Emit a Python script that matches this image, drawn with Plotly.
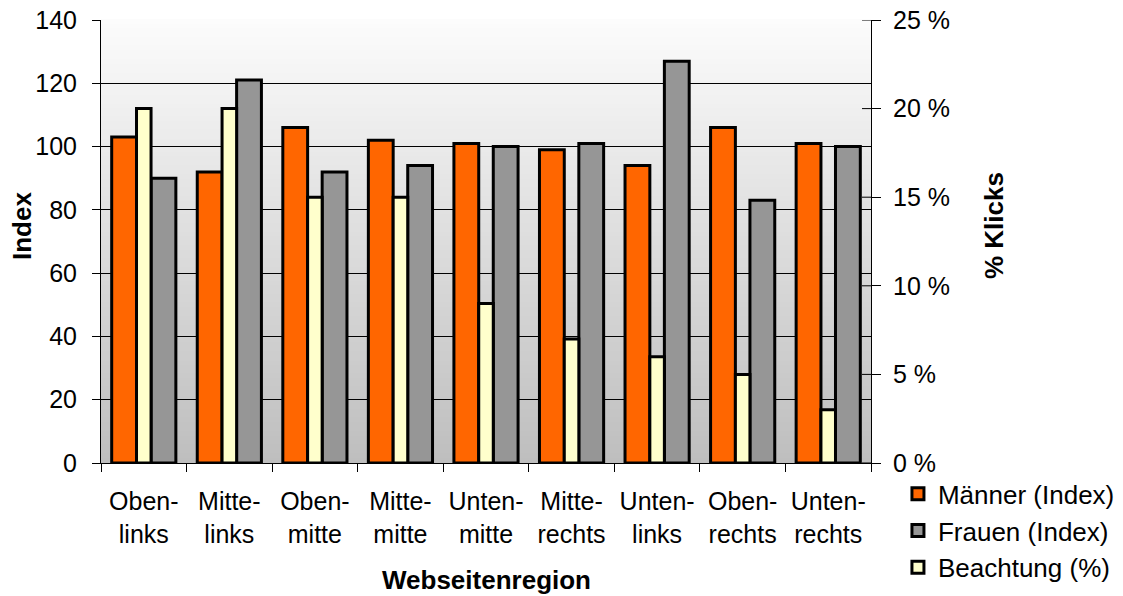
import plotly.graph_objects as go

categories = ["Oben-<br>links", "Mitte-<br>links", "Oben-<br>mitte", "Mitte-<br>mitte",
              "Unten-<br>mitte", "Mitte-<br>rechts", "Unten-<br>links", "Oben-<br>rechts",
              "Unten-<br>rechts"]
maenner_index = [103, 92, 106, 102, 101, 99, 94, 106, 101]
frauen_index = [90, 121, 92, 94, 100, 101, 127, 83, 100]
beachtung_pct = [20, 20, 15, 15, 9, 7, 6, 5, 3]

FONT = "Liberation Sans, Arial, sans-serif"

fig = go.Figure()
fig.add_trace(go.Bar(
    x=categories, y=maenner_index, name="Männer (Index)",
    marker=dict(color="#FF6600", line=dict(color="black", width=3)),
    offset=-0.375, width=0.29, yaxis="y"))
fig.add_trace(go.Bar(
    x=categories, y=frauen_index, name="Frauen (Index)",
    marker=dict(color="#969696", line=dict(color="black", width=3)),
    offset=0.085, width=0.29, yaxis="y"))
fig.add_trace(go.Bar(
    x=categories, y=beachtung_pct, name="Beachtung (%)",
    marker=dict(color="#FFFFCC", line=dict(color="black", width=3)),
    offset=-0.085, width=0.17, yaxis="y2"))

# gradient background for plot area
shapes = []
N = 100
top_c, bot_c = 252, 190
for i in range(N):
    f = (i + 0.5) / N
    c = round(top_c + (bot_c - top_c) * f)
    shapes.append(dict(type="rect", xref="paper", yref="paper",
                       x0=0, x1=1, y0=1 - (i + 1) / N, y1=1 - i / N + 0.002,
                       fillcolor=f"rgb({c},{c},{c})", line=dict(width=0),
                       layer="below"))
# inner part of the crossing ticks on the right axis
for v in range(0, 30, 5):
    shapes.append(dict(type="line", xref="paper", yref="y2",
                       x0=(862 - 101) / 770, x1=1, y0=v, y1=v,
                       line=dict(color="black", width=1)))

fig.update_layout(
    width=1123, height=596,
    margin=dict(l=101, r=252, t=20, b=133, autoexpand=False),
    paper_bgcolor="white", plot_bgcolor="rgba(0,0,0,0)",
    barmode="overlay",
    font=dict(family=FONT, size=25, color="black"),
    shapes=shapes,
    xaxis=dict(showline=True, linecolor="black", linewidth=1,
               ticks="outside", tickson="boundaries", ticklen=8,
               tickcolor="black", showgrid=False, automargin=False,
               tickfont=dict(size=25), ticklabelstandoff=16),
    yaxis=dict(range=[0, 140], dtick=20, showline=True, linecolor="black",
               linewidth=1, ticks="outside", ticklen=8, tickcolor="black",
               showgrid=True, gridcolor="black", gridwidth=1, zeroline=False,
               automargin=False,
               tickfont=dict(size=25), ticklabelstandoff=10),
    yaxis2=dict(range=[0, 25], dtick=5, overlaying="y", side="right",
                showline=True, linecolor="black", linewidth=1,
                ticks="outside", ticklen=9, tickcolor="black",
                ticksuffix=" %", showgrid=False, zeroline=False,
                automargin=False,
                tickfont=dict(size=25), ticklabelstandoff=7),
    showlegend=True,
    legend=dict(x=1.035, xanchor="left", y=-0.0165, yanchor="top",
                font=dict(size=26), bgcolor="rgba(0,0,0,0)",
                traceorder="normal", itemwidth=30),
    annotations=[
        dict(text="<b>Index</b>", xref="paper", yref="paper",
             x=(22 - 101) / 770, y=1 - (226 - 20) / 443, showarrow=False,
             textangle=-90, font=dict(size=26), xanchor="center", yanchor="middle"),
        dict(text="<b>% Klicks</b>", xref="paper", yref="paper",
             x=(994 - 101) / 770, y=1 - (226 - 20) / 443, showarrow=False,
             textangle=-90, font=dict(size=26), xanchor="center", yanchor="middle"),
        dict(text="<b>Webseitenregion</b>", xref="paper", yref="paper",
             x=(486 - 101) / 770, y=1 - (580 - 20) / 443, showarrow=False,
             font=dict(size=26), xanchor="center", yanchor="middle"),
    ],
)

fig.write_html("out.html", config={"displayModeBar": False},
               post_script="document.body.style.margin='0';document.body.style.overflow='hidden';")
